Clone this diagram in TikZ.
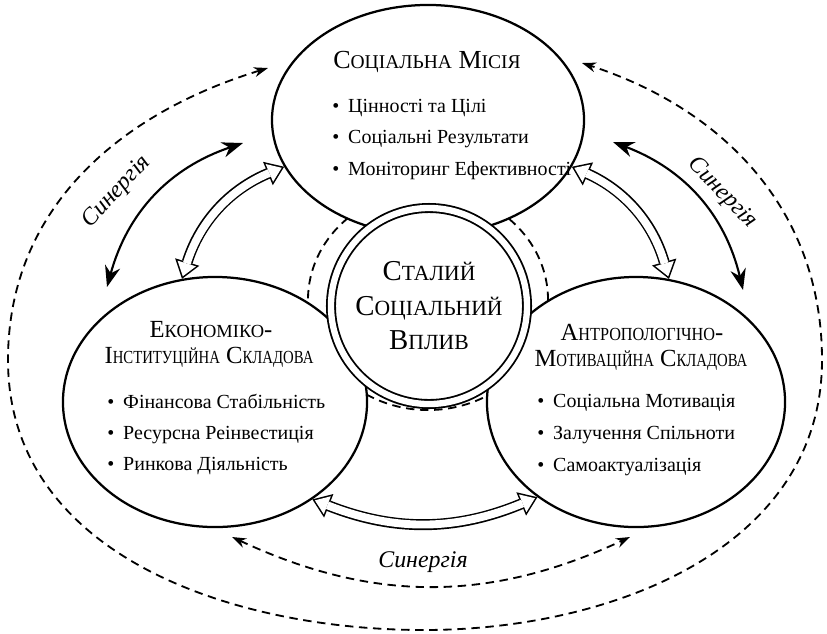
\documentclass[tikz,border=0pt]{standalone}
\usepackage{fontspec}
\setmainfont{Liberation Serif}
\newfontfamily\smcfont[Scale=0.75]{Liberation Serif}
\newfontfamily\smcnarrow[Scale=0.75,FakeStretch=0.88]{Liberation Serif}
\newfontfamily\smcslim[Scale=0.75,FakeStretch=0.8]{Liberation Serif}
\usetikzlibrary{positioning,arrows.meta,shapes.geometric}
\newcommand{\fsc}[1]{{\smcfont #1}}
\newcommand{\fscn}[1]{{\smcnarrow #1}}
\newcommand{\fscs}[1]{{\smcslim #1}}
\tikzset{
  pillar/.style  ={ellipse, draw, fill=white, line width=1.6pt, inner sep=0pt},
  core/.style    ={circle, draw, fill=white, double, double distance=4.5pt, line width=1.3pt,
                   inner sep=0pt, minimum size=4.9cm, align=center, font=\fontsize{20.5}{24.5}\selectfont},
  ring/.style    ={ellipse, draw, line width=1.3pt, dash pattern=on 6pt off 4pt, inner sep=0pt},
  ptitle/.style  ={font=\fontsize{18.5}{22}\selectfont, inner sep=0pt, anchor=base},
  stitle/.style  ={font=\fontsize{17.5}{22}\selectfont, inner sep=0pt, anchor=base},
  pitem/.style   ={font=\fontsize{14.2}{18}\selectfont, inner sep=0pt, anchor=base west},
  synlbl/.style  ={font=\itshape\fontsize{17}{20}\selectfont, inner sep=0pt},
  synarr/.style  ={{Stealth[length=15pt,width=11pt]}-{Stealth[length=15pt,width=11pt]}, line width=1.5pt},
  looparr/.style ={{Stealth[length=10pt,width=7pt]}-{Stealth[length=10pt,width=7pt]}, line width=1.3pt,
                   dash pattern=on 6pt off 4pt},
  % hollow block arrow: black outline pass, then a white core pass
  flowout/.style ={draw=black, line width=7.8pt,
                   {Triangle[length=12.5pt,width=18pt,line width=0pt]}-{Triangle[length=12.5pt,width=18pt,line width=0pt]}},
  flowin/.style  ={draw=white, line width=5.6pt, shorten <=1.9pt, shorten >=1.9pt,
                   {Triangle[length=9.5pt,width=13.7pt,line width=0pt]}-{Triangle[length=9.5pt,width=13.7pt,line width=0pt]}},
  flowarr/.style ={flowout, postaction={draw, flowin}},
}
\begin{document}
\begin{tikzpicture}[x=0.025cm, y=-0.025cm]
\useasboundingbox (0,0) rectangle (827,633);
% dashed ring behind the pillars
\node[ring, minimum width=6cm, minimum height=5.5cm] (ring) at (428,300) {};
% three pillars and the core
\node[pillar, minimum width=7.8cm, minimum height=5.75cm] (mission) at (428,120) {};
\node[pillar, minimum width=7.6cm, minimum height=6.25cm] (econ) at (215,402) {};
\node[pillar, minimum width=7.45cm, minimum height=6.25cm] (anthro) at (636,402) {};
\node[core] (impact) at (429,306) {С\fsc{ТАЛИЙ}\\С\fsc{ОЦІАЛЬНИЙ}\\В\fsc{ПЛИВ}};
% titles
\node[ptitle] (missionT) at (427,68) {С\fsc{ОЦІАЛЬНА} М\fsc{ІСІЯ}};
\node[stitle] (econTa) at (211,337) {Е\fsc{КОНОМІКО}-};
\node[stitle] (econTb) at (209,363) {І\fscs{НСТИТУЦІЙНА} С\fscs{КЛАДОВА}};
\node[stitle] (anthroTa) at (642,340) {А\fscn{НТРОПОЛОГІЧНО}-};
\node[stitle] (anthroTb) at (641,366) {М\fscs{ОТИВАЦІЙНА} С\fscs{КЛАДОВА}};
% bullet lists
\foreach \t [count=\i] in {Цінності та Цілі, Соціальні Результати, Моніторинг Ефективності}
  \node[pitem] (missionI\i) at (332,{112+31.5*(\i-1)}) {\textbullet\hspace{0.45em}\t};
\foreach \t [count=\i] in {Фінансова Стабільність, Ресурсна Реінвестиція, Ринкова Діяльність}
  \node[pitem] (econI\i) at (107,{408+31*(\i-1)}) {\textbullet\hspace{0.45em}\t};
\foreach \t [count=\i] in {Соціальна Мотивація, Залучення Спільноти, Самоактуалізація}
  \node[pitem] (anthroI\i) at (537,{407+32*(\i-1)}) {\textbullet\hspace{0.45em}\t};
% hollow flows between pillars
\draw[flowarr] (mission.198) to[bend right=25] (econ.105);
\draw[flowarr] (mission.342) to[bend left=25] (anthro.75);
\draw[flowarr] (econ.-45) to[bend right=22] (anthro.224);
% synergy links
\coordinate (synLa) at (243,143);
\coordinate (synLb) at (107,287);
\coordinate (synRa) at (613,142);
\coordinate (synRb) at (743,290);
\coordinate (synBa) at (232,537);
\coordinate (synBb) at (630,537);
\draw[synarr] (synLa) to[bend right=28] (synLb);
\draw[synarr] (synRa) to[bend left=28] (synRb);
\draw[looparr] (synBa) to[bend right=25] (synBb);
\node[synlbl, rotate=47] (synLt) at (117,192) {Синергія};
\node[synlbl, rotate=-46] (synRt) at (722,193) {Синергія};
\node[synlbl] (synBt) at (423,562) {Синергія};
% outer loop
\coordinate (loopA) at (268,68);
\coordinate (loopW) at (8,360);
\coordinate (loopS) at (424,630);
\coordinate (loopE) at (822,360);
\coordinate (loopB) at (582,63);
\draw[looparr] (loopA) to[out=197,in=90] (loopW) to[out=270,in=180] (loopS)
  to[out=0,in=270] (loopE) to[out=90,in=-18] (loopB);
\end{tikzpicture}
\end{document}
